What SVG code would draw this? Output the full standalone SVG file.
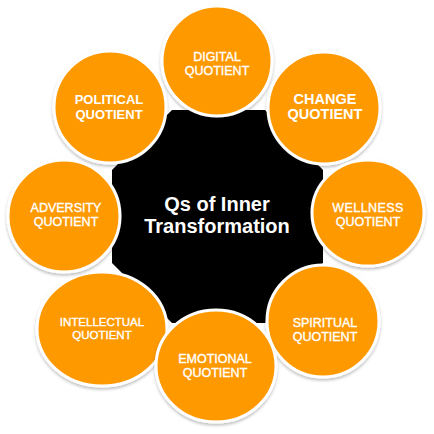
<svg xmlns="http://www.w3.org/2000/svg" width="434" height="434" viewBox="0 0 434 434">
<defs>
<filter id="sh" x="-20%" y="-20%" width="140%" height="140%">
<feDropShadow dx="0" dy="2" stdDeviation="1.5" flood-color="#000" flood-opacity="0.25"/>
</filter>
</defs>
<style>
.q{fill:#FF9900;stroke:#fff;stroke-width:3;filter:url(#sh)}
.t{font-family:"Liberation Sans",Arial,sans-serif;font-size:12.5px;fill:#fff;stroke:#fff;stroke-width:0.35;text-anchor:middle}
.b{font-weight:bold;stroke-width:0}
.c{font-family:"Liberation Sans",Arial,sans-serif;font-size:20px;font-weight:bold;fill:#fff;text-anchor:middle}
</style>
<rect width="434" height="434" fill="#fff"/>
<g id="center">
<polygon points="172,110 265,110 323,170 323,263 265,323 172,323 112,263 112,170" fill="#000"/>
<text class="c" x="217" y="211">Qs of Inner</text>
<text class="c" x="217" y="233">Transformation</text>
</g>
<g id="digital">
<circle class="q" cx="217" cy="61" r="55"/>
<text class="t" x="217" y="61">DIGITAL</text>
<text class="t" x="217" y="75">QUOTIENT</text>
</g>
<g id="change">
<circle class="q" cx="324" cy="108" r="56"/>
<text class="t b" style="font-size:14.5px" x="325" y="104">CHANGE</text>
<text class="t b" style="font-size:14.5px" x="325" y="119">QUOTIENT</text>
</g>
<g id="wellness">
<ellipse class="q" cx="368" cy="213" rx="56" ry="53"/>
<text class="t" style="letter-spacing:0.4px" x="368" y="212">WELLNESS</text>
<text class="t" x="368" y="226">QUOTIENT</text>
</g>
<g id="spiritual">
<circle class="q" cx="323" cy="321" r="56"/>
<text class="t" x="325" y="327">SPIRITUAL</text>
<text class="t" x="325" y="341">QUOTIENT</text>
</g>
<g id="intellectual">
<ellipse class="q" cx="102" cy="329" rx="65" ry="57"/>
<text class="t" style="font-size:11.5px" x="102" y="326">INTELLECTUAL</text>
<text class="t" style="font-size:11.5px" x="102" y="339">QUOTIENT</text>
</g>
<g id="emotional">
<ellipse class="q" cx="216" cy="366" rx="60" ry="56"/>
<text class="t" x="215" y="363">EMOTIONAL</text>
<text class="t" x="215" y="377">QUOTIENT</text>
</g>
<g id="adversity">
<circle class="q" cx="64" cy="216" r="56"/>
<text class="t" x="66" y="212">ADVERSITY</text>
<text class="t" x="66" y="226">QUOTIENT</text>
</g>
<g id="political">
<circle class="q" cx="110" cy="107" r="56"/>
<text class="t b" style="font-size:13px" x="109" y="104">POLITICAL</text>
<text class="t b" style="font-size:13px" x="109" y="119">QUOTIENT</text>
</g>
<g id="connectors"/>
</svg>
